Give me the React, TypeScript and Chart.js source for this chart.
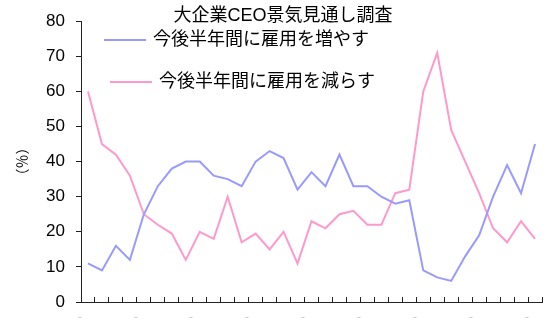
import React, { useEffect, useRef } from 'react';
import { Chart, registerables } from 'chart.js';

Chart.register(...registerables);

const TITLE = '大企業CEO景気見通し調査';
const Y_TITLE = '（％）';
const SERIES_UP = '今後半年間に雇用を増やす';
const SERIES_DOWN = '今後半年間に雇用を減らす';

const quarters = [
  '2002/10', '2003/1', '2003/4', '2003/7', '2003/10', '2004/1', '2004/4', '2004/7',
  '2004/10', '2005/1', '2005/4', '2005/7', '2005/10', '2006/1', '2006/4', '2006/7',
  '2006/10', '2007/1', '2007/4', '2007/7', '2007/10', '2008/1', '2008/4', '2008/7',
  '2008/10', '2009/1', '2009/4', '2009/7', '2009/10', '2010/1', '2010/4', '2010/7',
  '2010/10',
];

const increase = [
  11, 9, 16, 12, 25, 33, 38, 40, 40, 36, 35, 33, 40, 43, 41, 32,
  37, 33, 42, 33, 33, 30, 28, 29, 9, 7, 6, 13, 19, 30, 39, 31, 45,
];

const decrease = [
  60, 45, 42, 36, 25, 22, 19.5, 12, 20, 18, 30, 17, 19.5, 15, 20, 11,
  23, 21, 25, 26, 22, 22, 31, 32, 60, 71, 49, 40, 31, 21, 17, 23, 18,
];

const yTicks = [0, 10, 20, 30, 40, 50, 60, 70, 80];

const FONT = "'Liberation Sans', 'Noto Sans CJK JP', sans-serif";
const CJK_FONT = "'Noto Sans CJK JP', sans-serif";
const AXIS = '#222';

const overlayPlugin = {
  id: 'overlay',
  afterDraw(chart: any, _args: any, opts: any) {
    const ctx = chart.ctx;
    ctx.save();
    ctx.fillStyle = '#000';
    ctx.textBaseline = 'middle';
    ctx.textAlign = 'center';
    ctx.font = `${opts.titleSize}px ${FONT}`;
    ctx.fillText(opts.title, opts.titleX, opts.titleY);
    chart.data.datasets.forEach((ds: any, i: number) => {
      const it = opts.items[i];
      ctx.strokeStyle = ds.borderColor;
      ctx.lineWidth = 2;
      ctx.beginPath();
      ctx.moveTo(it.x, it.y);
      ctx.lineTo(it.x + opts.lineLen, it.y);
      ctx.stroke();
      ctx.font = `${opts.labelSize}px ${FONT}`;
      ctx.textAlign = 'left';
      ctx.fillText(ds.label, it.x + opts.lineLen + opts.gap, it.y);
    });
    ctx.restore();
  },
};

export default function App() {
  const ref = useRef<HTMLCanvasElement | null>(null);

  useEffect(() => {
    document.body.style.margin = '0';
    document.body.style.overflow = 'hidden';
    document.documentElement.style.overflow = 'hidden';
    const canvas = ref.current;
    if (!canvas) return;
    const chart = new Chart(canvas, {
      type: 'line',
      data: {
        labels: quarters,
        datasets: [
          {
            label: SERIES_UP,
            data: increase,
            borderColor: '#9999FF',
            backgroundColor: '#9999FF',
            borderWidth: 2,
            pointRadius: 0,
            tension: 0,
          },
          {
            label: SERIES_DOWN,
            data: decrease,
            borderColor: '#FF99CC',
            backgroundColor: '#FF99CC',
            borderWidth: 2,
            pointRadius: 0,
            tension: 0,
          },
        ],
      },
      options: {
        responsive: false,
        animation: false,
        devicePixelRatio: 1,
        layout: { padding: { left: 0, right: 9, top: 19, bottom: 0 } },
        plugins: {
          legend: { display: false },
          title: { display: false },
          tooltip: { enabled: false },
          overlay: {
            title: TITLE,
            titleSize: 18,
            titleX: 283,
            titleY: 16,
            labelSize: 18,
            lineLen: 42,
            gap: 7,
            items: [
              { x: 104, y: 40 },
              { x: 110, y: 82 },
            ],
          },
        } as any,
        scales: {
          x: {
            type: 'category',
            offset: true,
            grid: {
              offset: true,
              drawOnChartArea: false,
              drawTicks: true,
              tickLength: -5,
              tickColor: AXIS,
              color: AXIS,
            },
            border: { display: true, color: AXIS, width: 1 },
            ticks: {
              autoSkip: false,
              minRotation: 90,
              maxRotation: 90,
              labelOffset: -7,
              padding: 20,
              color: '#000',
              font: { family: FONT, size: 17 },
              callback: (_v: any, i: number) => (i % 4 === 0 ? quarters[i] : ''),
            },
            afterFit: (s: any) => {
              s.height = 98;
              s.paddingLeft = 0;
              s.paddingRight = 0;
            },
          },
          y: {
            min: 0,
            max: 80,
            afterBuildTicks: (s: any) => {
              s.ticks = yTicks.map((v) => ({ value: v }));
            },
            grid: {
              drawOnChartArea: false,
              drawTicks: true,
              tickLength: 5,
              tickColor: AXIS,
              color: AXIS,
            },
            border: { display: true, color: AXIS, width: 1 },
            ticks: {
              padding: 11,
              color: '#000',
              font: { family: FONT, size: 17 },
            },
            title: {
              display: true,
              text: Y_TITLE,
              color: '#000',
              font: { family: CJK_FONT, size: 14 },
              padding: { top: 13, bottom: 0 },
            },
            afterFit: (s: any) => {
              s.width = 81;
            },
          },
        },
      },
      plugins: [overlayPlugin],
    });
    return () => chart.destroy();
  }, []);

  return (
    <div style={{ width: 551, height: 400 }}>
      <canvas ref={ref} width={551} height={400} style={{ display: 'block' }} />
    </div>
  );
}
